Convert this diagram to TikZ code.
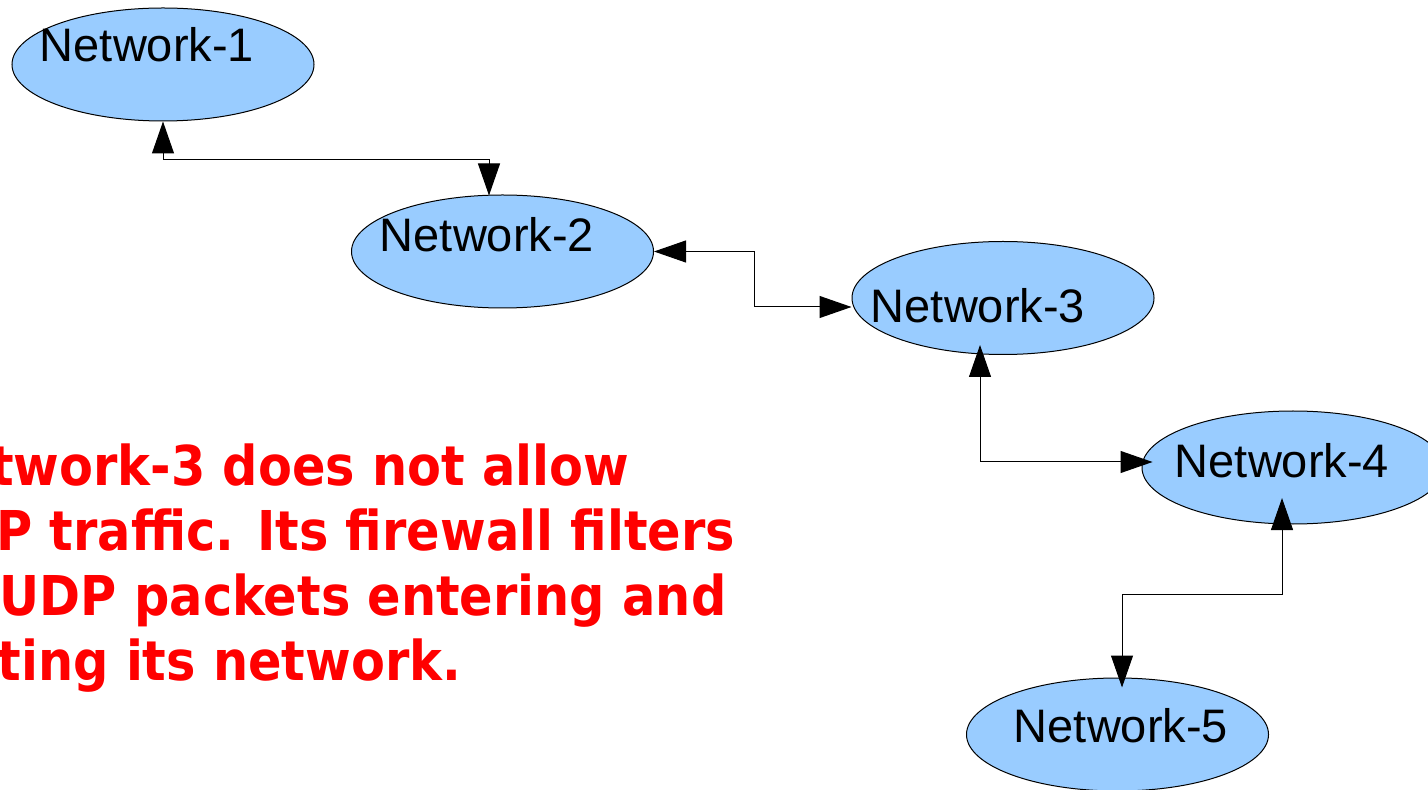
\documentclass[tikz,border=0pt]{standalone}
\usepackage{fontspec}
\setmainfont{Liberation Sans}
\newfontfamily\notefont[FakeStretch=0.9]{DejaVu Sans}
\usetikzlibrary{shapes.geometric,arrows.meta,calc}
\definecolor{netblue}{HTML}{99CCFF}
\definecolor{notered}{HTML}{FF0000}
\begin{document}
\begin{tikzpicture}[x=0.5pt,y=-0.5pt,
  net/.style={ellipse,draw=black,line width=0.5pt,fill=netblue,minimum width=151pt,minimum height=56.5pt,inner sep=0pt},
  nettext/.style={anchor=base west,inner sep=0pt,font=\fontsize{23.5pt}{28pt}\selectfont},
  conn/.style={draw=black,line width=0.5pt,{Triangle[length=16pt,width=11pt]}-{Triangle[length=16pt,width=11pt]}},
  note/.style={anchor=base west,inner sep=0pt,align=left,text=notered,font=\notefont\bfseries\fontsize{27.45pt}{32.5pt}\selectfont}]
\useasboundingbox (0,0) rectangle (1428,790);
% ellipses
\node[net] (n1) at (163,64.5) {};
\node[net] (n2) at (502.5,251.5) {};
\node[net] (n3) at (1003,298) {};
\node[net] (n4) at (1293,467.5) {};
\node[net] (n5) at (1117.5,734.5) {};
% connectors
\draw[conn] (n1.south) -- ++(0,38) -| ($(n2.north)+(-13.5,1)$);
\draw[conn] (n2.east) -- ++(100,0) |- ($(n3.west)+(0,9)$);
\draw[conn] ($(n3.center)+(-23,47)$) |- ($(n4.west)+(11,-5.5)$);
\draw[conn] ($(n4.center)+(-11,30.5)$) -- ++(0,96) -| ($(n5.north)+(4.5,10)$);
% labels
\node[nettext] (t1) at (39.5,62) {Network-1};
\node[nettext] (t2) at (379.5,252) {Network-2};
\node[nettext] (t3) at (870.5,323) {Network-3};
\node[nettext] (t4) at (1174.5,478) {Network-4};
\node[nettext] (t5) at (1013.5,742) {Network-5};
% note (anchor on the baseline of its last line)
\node[note] (note) at (-85,680) {Network-3 does not allow\\UDP traffic. Its firewall filters\\all UDP packets entering and\\exiting its network.};
\end{tikzpicture}
\end{document}
